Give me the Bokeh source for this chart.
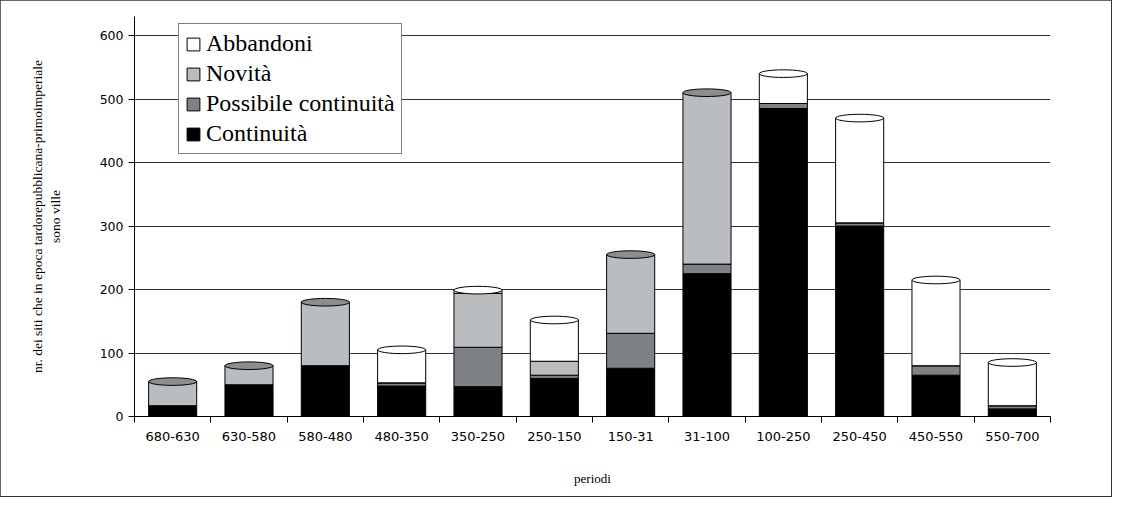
import numpy as np
from bokeh.plotting import figure
from bokeh.models import ColumnDataSource, FixedTicker, Legend, LegendItem, Range1d
from bokeh.embed import file_html
from bokeh.resources import INLINE

categories = ["680-630", "630-580", "580-480", "480-350", "350-250", "250-150",
              "150-31", "31-100", "100-250", "250-450", "450-550", "550-700"]
continuita = [17, 50, 80, 48, 47, 60, 76, 225, 485, 300, 65, 12]
possibile = [0, 0, 0, 5, 62, 5, 55, 15, 8, 5, 15, 5]
novita = [38, 30, 100, 0, 85, 22, 124, 270, 0, 0, 0, 0]
abbandoni = [0, 0, 0, 52, 5, 65, 0, 0, 47, 165, 135, 68]

series_keys = ["c", "p", "n", "a"]
series_names = ["Continuità", "Possibile continuità", "Novità", "Abbandoni"]
colors = ["#000000", "#7e8286", "#b9bdc0", "#ffffff"]
cap_colors = ["#8a8e91", "#6f7377", "#8a8e91", "#ffffff"]
y_ticks = [0, 100, 200, 300, 400, 500, 600]

x = np.arange(len(categories)) + 0.5
src = ColumnDataSource(dict(x=x, c=continuita, p=possibile, n=novita, a=abbandoni))

p = figure(width=1111, height=496, x_range=Range1d(0, len(categories)),
           y_range=Range1d(0, 630), output_backend="svg", toolbar_location=None,
           min_border_left=134, min_border_right=61, min_border_top=16,
           min_border_bottom=80)
p.styles = {"outline": "2px solid #333", "outline-offset": "-1px"}

renderers = p.vbar_stack(series_keys, x="x", width=0.63, source=src,
                         fill_color=colors, line_color="#000000", line_width=1)

# cylinder caps at top of each stack
tot = np.array(continuita) + np.array(possibile) + np.array(novita) + np.array(abbandoni)
top_col = []
for i in range(len(categories)):
    vals = [continuita[i], possibile[i], novita[i], abbandoni[i]]
    k = max(j for j in range(4) if vals[j] > 0)
    top_col.append(cap_colors[k])
p.ellipse(x=x, y=tot, width=0.63, height=12, fill_color=top_col,
          line_color="#000000", line_width=1)

# axes
p.xaxis.ticker = FixedTicker(ticks=list(x), minor_ticks=list(np.arange(len(categories) + 1)))
p.xaxis.major_label_overrides = {float(v): c for v, c in zip(x, categories)}
p.xaxis.major_tick_line_alpha = 0
p.xaxis.minor_tick_out = 6
p.xaxis.minor_tick_in = 0
p.xaxis.minor_tick_line_color = "#000000"
p.xaxis.axis_line_color = "#000000"
p.xaxis.major_label_text_font = "DejaVu Sans"
p.xaxis.major_label_text_font_size = "13px"
p.xaxis.major_label_text_color = "#000000"
p.xaxis.major_label_standoff = 9
p.xaxis.axis_label = "periodi"
p.xaxis.axis_label_text_font = "Liberation Serif"
p.xaxis.axis_label_text_font_style = "normal"
p.xaxis.axis_label_text_font_size = "13px"
p.xaxis.axis_label_text_color = "#000000"
p.xaxis.axis_label_standoff = 27

p.yaxis.ticker = FixedTicker(ticks=y_ticks)
p.yaxis.minor_tick_line_alpha = 0
p.yaxis.major_tick_out = 6
p.yaxis.major_tick_in = 0
p.yaxis.major_tick_line_color = "#000000"
p.yaxis.axis_line_color = "#000000"
p.yaxis.major_label_text_font = "DejaVu Sans"
p.yaxis.major_label_text_font_size = "12.5px"
p.yaxis.major_label_text_color = "#000000"
p.yaxis.axis_label = "nr. dei siti che in epoca tardorepubblicana-primoimperiale\nsono ville"
p.yaxis.axis_label_text_font = "Liberation Serif"
p.yaxis.axis_label_text_font_style = "normal"
p.yaxis.axis_label_text_font_size = "13.5px"
p.yaxis.axis_label_text_color = "#000000"
p.yaxis.axis_label_standoff = 34

p.xgrid.grid_line_color = None
p.ygrid.ticker = FixedTicker(ticks=y_ticks)
p.ygrid.grid_line_color = "#333333"
p.ygrid.grid_line_width = 1
p.outline_line_color = None

items = [LegendItem(label=series_names[i], renderers=[renderers[i]]) for i in [3, 2, 1, 0]]
legend = Legend(items=items, location=(44, 262))
legend.label_text_font = "Liberation Serif"
legend.label_text_font_size = "24px"
legend.label_text_color = "#000000"
legend.glyph_width = 16
legend.glyph_height = 16
legend.label_height = 24
legend.spacing = 3
legend.padding = 6
legend.margin = 0
legend.border_line_color = "#000000"
legend.border_line_width = 1
legend.background_fill_alpha = 1
legend.label_standoff = 5
p.add_layout(legend, "center")

open("out.html", "w").write(file_html(p, INLINE))
